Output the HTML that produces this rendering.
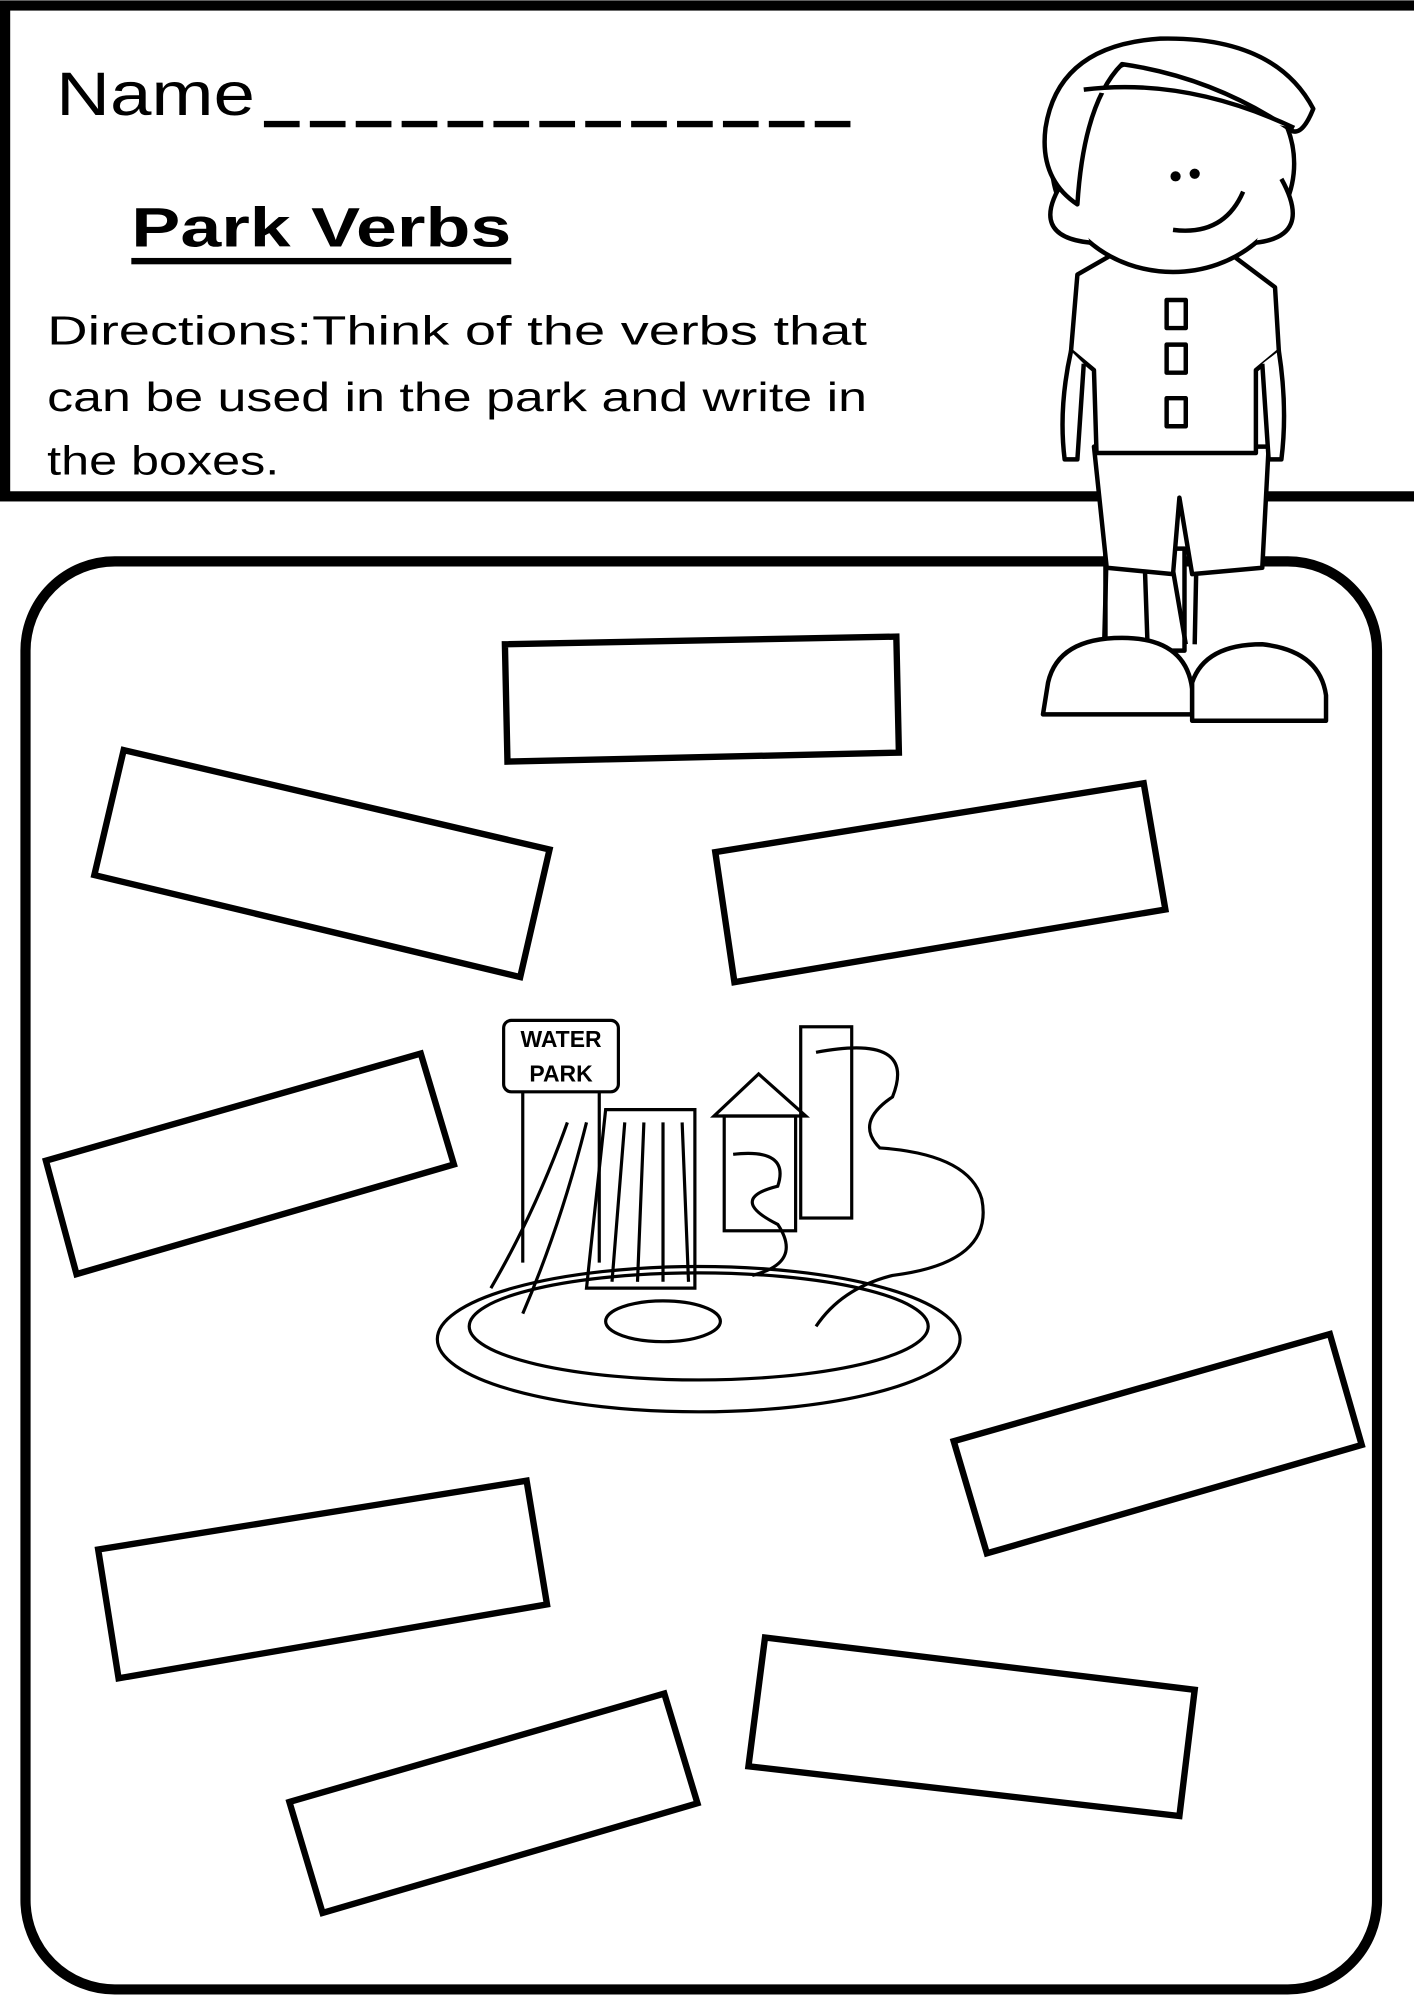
<!DOCTYPE html>
<html><head><meta charset="utf-8"><style>
html,body{margin:0;padding:0;background:#fff;}
svg{display:block}
text{font-family:"Liberation Sans",sans-serif;fill:#000}
</style></head><body>
<svg width="1414" height="2000" viewBox="0 0 1109 1568" xmlns="http://www.w3.org/2000/svg">
<rect x="0" y="0" width="1109" height="1568" fill="#fff"/>
<!-- header box -->
<rect x="4" y="4" width="1120" height="385" fill="none" stroke="#000" stroke-width="8"/>
<text x="44" y="90" font-size="48" textLength="156" lengthAdjust="spacingAndGlyphs">Name</text>
<line x1="207" y1="97" x2="670" y2="97" stroke="#000" stroke-width="5" stroke-dasharray="28,8"/>
<text x="103" y="193" font-size="44" font-weight="bold" textLength="298" lengthAdjust="spacingAndGlyphs">Park Verbs</text>
<rect x="103" y="202" width="298" height="5" fill="#000"/>
<text x="37" y="270" font-size="32" textLength="643" lengthAdjust="spacingAndGlyphs">Directions:Think  of  the  verbs  that</text>
<text x="37" y="322" font-size="32" textLength="643" lengthAdjust="spacingAndGlyphs">can be used in the park and write in</text>
<text x="37" y="372" font-size="32" textLength="182" lengthAdjust="spacingAndGlyphs">the boxes.</text>
<!-- big rounded box -->
<rect x="20" y="440" width="1060" height="1120" rx="70" fill="#fff" stroke="#000" stroke-width="8"/>
<!-- boy -->
<g fill="#fff" stroke="#000" stroke-width="3.5" stroke-linejoin="round">
 <rect x="867" y="430" width="62" height="80" fill="#fff"/>
 <path d="M870 355 L866 505 M895 360 L900 505 M905 360 L930 505 M940 360 L937 505"/>
 <path d="M858 350 L995 350 L990 445 L935 450 L925 390 L920 450 L868 445 Z"/>
 <path d="M845 215 L880 195 L960 195 L1000 225 L1003 275 L985 290 L985 355 L860 355 L858 290 L840 275 Z"/>
 <path d="M840 275 Q830 320 835 360 L845 360 L850 285 M1003 275 Q1010 320 1005 360 L995 360 L990 285"/>
 <rect x="915" y="235" width="15" height="22"/><rect x="915" y="270" width="15" height="22"/><rect x="915" y="312" width="15" height="22"/>
 <ellipse cx="920" cy="128" rx="95" ry="85"/>
 <path d="M835 140 Q805 185 855 190 M1005 140 Q1030 185 985 190"/>
 <path d="M820 100 Q830 35 910 30 Q1000 28 1030 85 Q1020 110 1010 100 Q950 60 880 50 Q850 80 845 160 Q815 140 820 100 Z"/>
 <path d="M850 70 Q930 60 1015 100"/>
 <path d="M920 180 Q960 185 975 150" fill="none"/>
 <path d="M822 535 Q830 500 880 500 Q930 500 935 540 L935 560 L818 560 Z"/>
 <path d="M935 535 Q945 505 990 505 Q1035 510 1040 545 L1040 565 L935 565 Z"/>
</g>
<circle cx="922" cy="138" r="4"/><circle cx="937" cy="136" r="4"/>
<!-- boxes -->
<g fill="#fff" stroke="#000" stroke-width="5" stroke-linejoin="miter">
 <polygon points="396,505 703,499 705,590 398,597"/>
 <polygon points="97,588 431,666 408,766 74,686"/>
 <polygon points="561,668 897,614 914,713 576,770"/>
 <polygon points="36,910 330,826 356,913 60,999"/>
 <polygon points="748,1130 1043,1046 1068,1133 774,1218"/>
 <polygon points="77,1215 413,1161 429,1258 93,1316"/>
 <polygon points="600,1284 937,1325 925,1424 587,1385"/>
 <polygon points="227,1413 521,1328 547,1414 253,1500"/>
</g>
<!-- water park -->
<g fill="none" stroke="#000" stroke-width="2.5">
 <ellipse cx="548" cy="1050" rx="205" ry="57"/>
 <ellipse cx="548" cy="1040" rx="180" ry="42"/>
 <ellipse cx="520" cy="1036" rx="45" ry="16"/>
 <rect x="395" y="800" width="90" height="56" rx="6"/>
 <line x1="410" y1="856" x2="410" y2="990"/><line x1="470" y1="856" x2="470" y2="990"/>
 <path d="M475 870 L545 870 L545 1010 L460 1010 Z"/>
 <path d="M490 880 L480 1005 M505 880 L500 1005 M520 880 L520 1005 M535 880 L540 1005"/>
 <path d="M560 875 L595 842 L632 875 Z"/>
 <rect x="568" y="875" width="56" height="90"/>
 <rect x="628" y="805" width="40" height="150"/>
 <path d="M640 825 Q720 810 700 860 Q670 880 690 900 Q760 905 770 940 Q780 990 700 1000 Q660 1010 640 1040"/>
 <path d="M445 880 Q420 950 385 1010 M460 880 Q440 960 410 1030"/>
 <path d="M575 905 Q620 900 610 930 Q570 940 610 960 Q630 990 590 1000"/>
</g>
<text x="440" y="821" font-size="18" font-weight="bold" text-anchor="middle">WATER</text>
<text x="440" y="848" font-size="18" font-weight="bold" text-anchor="middle">PARK</text>
</svg>
</body></html>
